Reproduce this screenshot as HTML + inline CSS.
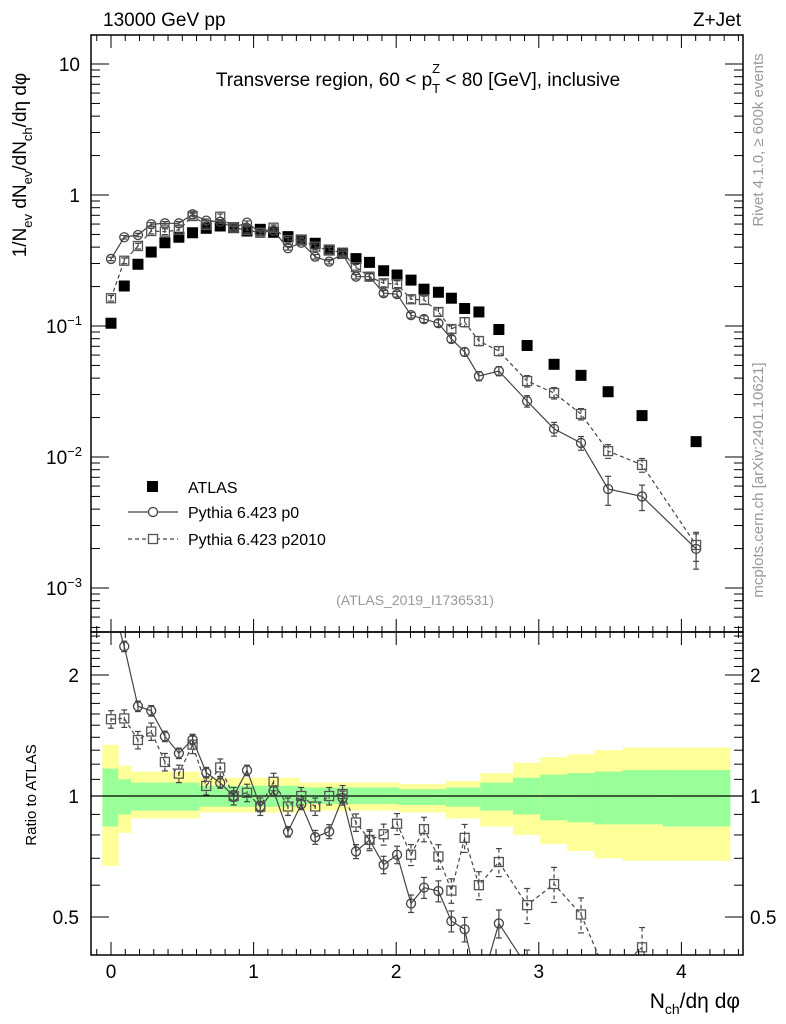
<!DOCTYPE html>
<html><head><meta charset="utf-8">
<style>
html,body{margin:0;padding:0;background:#fff;width:786px;height:1024px;overflow:hidden;position:relative;}
svg{display:block;font-family:"Liberation Sans",sans-serif;}
</style></head>
<body>
<svg id="chart" width="786" height="1024" viewBox="0 0 786 1024" style="position:absolute;left:0;top:0"></svg>
<script>
// ---- data ----
const binX = [0,0.093,0.189,0.282,0.378,0.476,0.572,0.668,0.766,0.86,0.954,1.047,1.14,1.241,1.334,1.432,1.53,1.624,1.718,1.813,1.912,2.006,2.104,2.195,2.296,2.387,2.48,2.58,2.72,2.918,3.107,3.296,3.486,3.724,4.103];
const atlas = [0.105,0.202,0.296,0.367,0.432,0.476,0.515,0.557,0.580,0.563,0.531,0.547,0.519,0.481,0.453,0.428,0.380,0.359,0.327,0.306,0.264,0.245,0.224,0.191,0.181,0.163,0.136,0.128,0.094,0.071,0.051,0.042,0.0315,0.0207,0.0131];
const p0 = [0.325,0.476,0.495,0.598,0.608,0.608,0.712,0.637,0.625,0.563,0.615,0.515,0.534,0.392,0.432,0.338,0.310,0.355,0.238,0.238,0.178,0.175,0.121,0.113,0.105,0.0796,0.0634,0.0415,0.0453,0.0267,0.0164,0.0128,0.0057,0.0050,0.00199];
const p2010 = [0.163,0.315,0.408,0.531,0.525,0.541,0.691,0.590,0.683,0.563,0.541,0.515,0.563,0.453,0.453,0.403,0.380,0.363,0.281,0.238,0.212,0.209,0.160,0.158,0.128,0.0948,0.107,0.0768,0.0644,0.0380,0.0308,0.0213,0.0111,0.0087,0.00213];
const p0Err = [0.03,0.03,0.03,0.03,0.03,0.03,0.03,0.03,0.03,0.03,0.03,0.03,0.03,0.03,0.03,0.04,0.04,0.04,0.04,0.05,0.05,0.05,0.05,0.06,0.06,0.06,0.07,0.08,0.08,0.1,0.12,0.12,0.25,0.22,0.3];
const p2010Err = [0.05,0.05,0.05,0.05,0.05,0.05,0.05,0.05,0.05,0.05,0.05,0.05,0.05,0.05,0.05,0.05,0.05,0.05,0.05,0.06,0.06,0.06,0.06,0.07,0.07,0.07,0.08,0.08,0.08,0.1,0.1,0.1,0.12,0.12,0.25];
const bandEdges = [-0.06,0.05,0.14,0.62,1.32,2.02,2.35,2.59,2.82,3.01,3.2,3.39,3.59,3.87,4.34];
const yelHi = [1.34,1.19,1.15,1.11,1.08,1.07,1.09,1.14,1.21,1.25,1.27,1.30,1.32,1.32];
const yelLo = [0.67,0.81,0.88,0.91,0.92,0.91,0.88,0.84,0.80,0.76,0.73,0.70,0.69,0.69];
const grnHi = [1.17,1.10,1.08,1.06,1.05,1.04,1.05,1.08,1.11,1.13,1.14,1.15,1.16,1.16];
const grnLo = [0.84,0.90,0.92,0.94,0.955,0.95,0.94,0.92,0.90,0.87,0.86,0.85,0.85,0.84];
const xTicks = [0,1,2,3,4];
const mainTickExp = [1,0,-1,-2,-3];
const ratioTicks = [2,1,0.5];

const NS="http://www.w3.org/2000/svg";
const svg=document.getElementById('chart');
function el(tag,attrs,parent){const e=document.createElementNS(NS,tag);for(const k in attrs)e.setAttribute(k,attrs[k]);(parent||svg).appendChild(e);return e;}
const L=91,R=743,MT=35,MB=632,RT=632,RB=955;
const X=v=>111+v*142.6;
const YM=v=>195-Math.log10(v)*131;
const YR=v=>796-Math.log2(v)*121;
const clipM=el('clipPath',{id:'cm'});el('rect',{x:L,y:MT,width:R-L,height:MB-MT},clipM);
const clipR=el('clipPath',{id:'cr'});el('rect',{x:L,y:RT,width:R-L,height:RB-RT},clipR);

const gB=el('g',{'clip-path':'url(#cr)'});


for(let i=0;i<yelHi.length;i++){
  const x0=X(bandEdges[i]),x1=X(bandEdges[i+1]);
  const y=el('rect',{x:x0,y:YR(yelHi[i]),width:x1-x0+0.5,height:YR(yelLo[i])-YR(yelHi[i]),fill:'#ffff99'},gB);
  
  
  const g=el('rect',{x:x0,y:YR(grnHi[i]),width:x1-x0+0.5,height:YR(grnLo[i])-YR(grnHi[i]),fill:'#99ff99'},gB);
  
  
}
el('line',{x1:L,x2:R,y1:YR(1),y2:YR(1),stroke:'#000','stroke-width':1.2});

function drawSeries(vals,errs,type,yf,clip,dash,name,ratio){
  const g=el('g',{'clip-path':'url(#'+clip+')'});
  
  
  const pts=vals.map((v,i)=>{const val=ratio?v/atlas[i]:v;return [X(binX[i]),yf(val),val];});
  if(type!=='atlas'){
    el('polyline',{points:pts.map(p=>p[0]+','+p[1]).join(' '),fill:'none',stroke:'#444','stroke-width':1.2,'stroke-dasharray':dash||'none'},g);
    pts.forEach((p,i)=>{
      const e=errs[i],hi=yf(p[2]*(1+e)),lo=yf(p[2]*(1-e));
      el('line',{x1:p[0],x2:p[0],y1:hi,y2:lo,stroke:'#444','stroke-width':1.2,'stroke-dasharray':dash||'none'},g);
      el('line',{x1:p[0]-3,x2:p[0]+3,y1:hi,y2:hi,stroke:'#444','stroke-width':1.2},g);
      el('line',{x1:p[0]-3,x2:p[0]+3,y1:lo,y2:lo,stroke:'#444','stroke-width':1.2},g);
      let m;
      if(type==='circle') m=el('circle',{cx:p[0],cy:p[1],r:4.5,fill:'none',stroke:'#444','stroke-width':1.3},g);
      else m=el('rect',{x:p[0]-4.5,y:p[1]-4.5,width:9,height:9,fill:'none',stroke:'#555','stroke-width':1.3},g);
      
      
    });
  } else {
    pts.forEach(p=>{
      const m=el('rect',{x:p[0]-5.5,y:p[1]-5.5,width:11,height:11,fill:'#000'},g);
      
      
    });
  }
}
drawSeries(atlas,null,'atlas',YM,'cm',null,'atlas-series',false);
drawSeries(p0,p0Err,'circle',YM,'cm',null,'pythia-p0-series',false);
drawSeries(p2010,p2010Err,'square',YM,'cm','4,3','pythia-p2010-series',false);
drawSeries(p0,p0Err,'circle',YR,'cr',null,'pythia-p0-ratio',true);
drawSeries(p2010,p2010Err,'square',YR,'cr','4,3','pythia-p2010-ratio',true);

el('rect',{x:L,y:MT,width:R-L,height:MB-MT,fill:'none',stroke:'#000','stroke-width':1.5});
el('rect',{x:L,y:RT,width:R-L,height:RB-RT,fill:'none',stroke:'#000','stroke-width':1.5});

for(let k=-1;k<=44;k++){
  const v=k/10,x=X(v); if(x<L||x>R) continue;
  const major=k%10===0,len=major?13:6;
  [[MT,1],[MB,-1],[RT,1],[RB,-1]].forEach(([y,d])=>el('line',{x1:x,x2:x,y1:y,y2:y+d*len,stroke:'#000','stroke-width':1}));
}
xTicks.forEach(v=>{
  const t=el('text',{x:X(v),y:978,'font-size':19,'text-anchor':'middle'});t.textContent=v;
  
  
});
for(let e=-4;e<=1;e++){for(let m=1;m<10;m++){
  const v=m*Math.pow(10,e),y=YM(v); if(y<MT||y>MB) continue;
  const len=m===1?18:9;
  el('line',{x1:L,x2:L+len,y1:y,y2:y,stroke:'#000'});el('line',{x1:R,x2:R-len,y1:y,y2:y,stroke:'#000'});
}}
mainTickExp.forEach(e=>{
  const t=el('text',{x:e>=0?80:81,y:YM(Math.pow(10,e))+7,'font-size':19,'text-anchor':'end'});
  
  
  if(e===1)t.textContent='10';else if(e===0)t.textContent='1';
  else{t.textContent='10';const s=el('tspan',{dy:-8,'font-size':13},t);s.textContent='\u2212'+(-e);t.setAttribute('x',82);}
});
[0.4,0.5,0.6,0.7,0.8,0.9,1,2].forEach(v=>{const y=YR(v);if(y<RT||y>RB)return;const len=(v===1||v===2||v===0.5)?18:9;
  el('line',{x1:L,x2:L+len,y1:y,y2:y,stroke:'#000'});el('line',{x1:R,x2:R-len,y1:y,y2:y,stroke:'#000'});});
for(let v=1.1;v<2.6;v+=0.1){const y=YR(v);if(y<RT)break;el('line',{x1:L,x2:L+9,y1:y,y2:y,stroke:'#000'});el('line',{x1:R,x2:R-9,y1:y,y2:y,stroke:'#000'});}
ratioTicks.forEach(v=>{
  const a=el('text',{x:79,y:YR(v)+7,'font-size':19,'text-anchor':'end'});a.textContent=v;
  
  
  const b=el('text',{x:750,y:YR(v)+7,'font-size':19});b.textContent=v;
  
  
});
</script>
<svg width="786" height="1024" style="position:absolute;left:0;top:0" font-family="Liberation Sans, sans-serif">
<text x="103" y="26" font-size="19">13000 GeV pp</text>
<text x="741" y="26" font-size="19" text-anchor="end">Z+Jet</text>
<text x="418" y="86" font-size="19" text-anchor="middle">Transverse region, 60 &lt; p<tspan dy="7" font-size="13">T</tspan><tspan dy="-20" dx="-8" font-size="13">Z</tspan><tspan dy="13"> &lt; 80 [GeV], inclusive</tspan></text>
<text x="415" y="605" font-size="14" fill="#999" text-anchor="middle">(ATLAS_2019_I1736531)</text>
<g>
<rect x="147" y="481" width="11" height="11" fill="#000"/>
<text x="188" y="493" font-size="16">ATLAS</text>
<line x1="128" x2="178" y1="512" y2="512" stroke="#444" stroke-width="1.2"/>
<circle cx="153" cy="512" r="4.5" fill="#fff" stroke="#444" stroke-width="1.3"/>
<text x="188" y="518" font-size="16">Pythia 6.423 p0</text>
<line x1="128" x2="178" y1="539" y2="539" stroke="#444" stroke-width="1.2" stroke-dasharray="4,3"/>
<rect x="148.5" y="534.5" width="9" height="9" fill="#fff" stroke="#555" stroke-width="1.3"/>
<text x="188" y="545" font-size="16">Pythia 6.423 p2010</text>
</g>
<text transform="translate(26,165) rotate(-90)" font-size="19" text-anchor="middle">1/N<tspan dy="6" font-size="13">ev</tspan><tspan dy="-6"> dN</tspan><tspan dy="6" font-size="13">ev</tspan><tspan dy="-6">/dN</tspan><tspan dy="6" font-size="13">ch</tspan><tspan dy="-6">/dη dφ</tspan></text>
<text transform="translate(36,795) rotate(-90)" font-size="15" text-anchor="middle">Ratio to ATLAS</text>
<text x="740" y="1008" font-size="21" text-anchor="end">N<tspan dy="6" font-size="14">ch</tspan><tspan dy="-6">/dη dφ</tspan></text>
<text transform="translate(763,140) rotate(-90)" font-size="15" fill="#999" text-anchor="middle">Rivet 4.1.0, ≥ 600k events</text>
<text transform="translate(763,480) rotate(-90)" font-size="15" fill="#999" text-anchor="middle">mcplots.cern.ch [arXiv:2401.10621]</text>
</svg>
</body></html>
